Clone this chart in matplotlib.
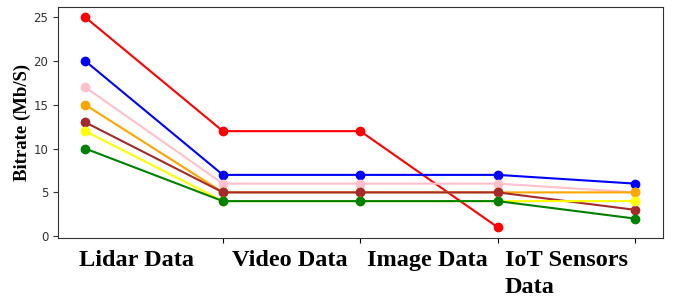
import matplotlib.pyplot as plt
from matplotlib.transforms import offset_copy

# categorias y datos
etiquetas = ['Lidar Data', 'Video Data', 'Image Data', 'IoT Sensors\nData']
rojo = [25, 12, 12, 1]
azul = [20, 7, 7, 7, 6]
rosa = [17, 6, 6, 6, 5]
naranja = [15, 5, 5, 5, 5]
marron = [13, 5, 5, 5, 3]
amarillo = [12, 4, 4, 4, 4]
verde = [10, 4, 4, 4, 2]

series = [(rojo, 'red'), (azul, 'blue'), (rosa, 'pink'), (naranja, 'orange'),
          (marron, 'brown'), (amarillo, 'yellow'), (verde, 'green')]

fig = plt.figure(figsize=(6.78, 3.03), dpi=100)
ax = fig.add_axes([0.0855, 0.215, 0.892, 0.762])

for valores, color in series:
    ax.plot(range(len(valores)), valores, color=color, marker='o',
            markersize=6, linewidth=1.5)

ax.set_yticks([0, 5, 10, 15, 20, 25])
ax.tick_params(axis='y', labelsize=8.5, colors='#333333')
ax.set_xticks([1, 2, 3, 4])
ax.set_xticklabels([])
for s in ax.spines.values():
    s.set_color('#333333')

ax.set_ylabel('Bitrate (Mb/S)', family='Liberation Serif', fontweight='bold',
              fontsize=13.5, labelpad=2)

# etiquetas del eje x como texto, alineadas a la izquierda
desplaz = [-0.045, 0.065, 0.05, 0.05]
for i, et in enumerate(etiquetas):
    ax.text(i + desplaz[i], 0, et, transform=offset_copy(
        ax.get_xaxis_transform(), fig=fig, y=-9, units='points'),
        ha='left', va='top', family='Liberation Serif', fontweight='bold',
        fontsize=17.5, linespacing=1.35)

fig.savefig('out.png', dpi=100)
